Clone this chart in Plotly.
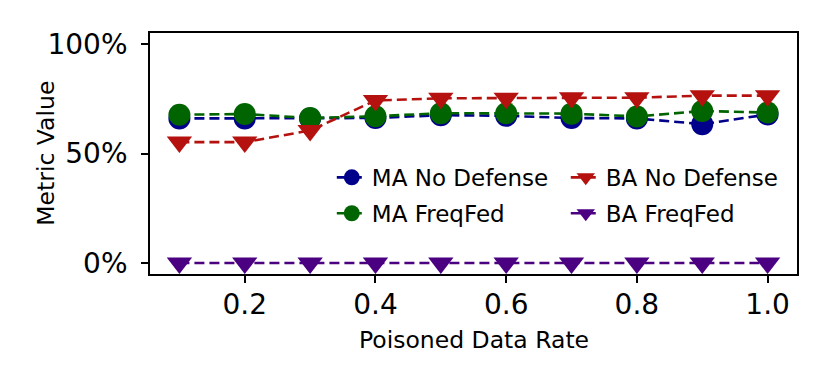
import plotly.graph_objects as go

rates = [0.1, 0.2, 0.3, 0.4, 0.5, 0.6, 0.7, 0.8, 0.9, 1.0]
ma_no_defense = [0.660, 0.660, 0.660, 0.662, 0.675, 0.672, 0.662, 0.660, 0.634, 0.678]
ma_freqfed = [0.677, 0.680, 0.662, 0.670, 0.684, 0.684, 0.682, 0.669, 0.694, 0.687]
ba_no_defense = [0.552, 0.552, 0.605, 0.742, 0.752, 0.752, 0.755, 0.755, 0.764, 0.764]
ba_freqfed = [0.0, 0.0, 0.0, 0.0, 0.0, 0.0, 0.0, 0.0, 0.0, 0.0]
x_ticks = [0.2, 0.4, 0.6, 0.8, 1.0]
y_ticks = [0.0, 0.5, 1.0]
y_tick_labels = ["0%", "50%", "100%"]

FONT = "DejaVu Sans"
dash = "10px,5px"

series = [
    ("MA No Defense", ma_no_defense, "#00008B", "circle", 22, "legend"),
    ("MA FreqFed", ma_freqfed, "#006400", "circle", 22, "legend"),
    ("BA No Defense", ba_no_defense, "#B5120F", "triangle-down", 22, "legend2"),
    ("BA FreqFed", ba_freqfed, "#4B0082", "triangle-down", 22, "legend2"),
]

fig = go.Figure()
for name, vals, color, sym, size, leg in series:
    fig.add_trace(go.Scatter(
        x=rates, y=vals, name=name, mode="lines+markers",
        line=dict(color=color, width=2.6, dash=dash),
        marker=dict(color=color, symbol=sym, size=size, line=dict(width=0)),
        legend=leg, legendgroup=name,
    ))

axis_common = dict(
    showline=True, linecolor="black", linewidth=1.8, mirror=True,
    ticks="outside", ticklen=7, tickwidth=1.6, tickcolor="black",
    showgrid=False, zeroline=False,
    tickfont=dict(family=FONT, size=28, color="black"),
)

fig.update_xaxes(range=[0.055, 1.045], tickvals=x_ticks, tickformat=".1f",
                 ticklabelstandoff=-3, **axis_common)
fig.update_yaxes(range=[-0.05, 1.05], tickvals=y_ticks, ticktext=y_tick_labels,
                 ticklabelstandoff=8, **axis_common)

fig.add_annotation(text="Poisoned Data Rate", xref="paper", yref="paper",
                   x=0.5, y=-0.274, xanchor="center", yanchor="middle", showarrow=False,
                   font=dict(family=FONT, size=23.5, color="black"))
fig.add_annotation(text="Metric Value", xref="paper", yref="paper", textangle=-90,
                   x=-0.162, y=0.5, xanchor="center", yanchor="middle", showarrow=False,
                   font=dict(family=FONT, size=23.5, color="black"))

legend_common = dict(
    font=dict(family=FONT, size=23, color="black"),
    bgcolor="rgba(255,255,255,0)", borderwidth=0,
    xanchor="left", yanchor="top", orientation="v",
    itemwidth=30, tracegroupgap=3,
)
fig.update_layout(
    width=830, height=388,
    margin=dict(l=142, r=41, t=25, b=122),
    plot_bgcolor="white", paper_bgcolor="white",
    font=dict(family=FONT, color="black"),
    legend=dict(x=0.281, y=0.49, **legend_common),
    legend2=dict(x=0.6426, y=0.49, **legend_common),
)

fig.write_html("out.html")
